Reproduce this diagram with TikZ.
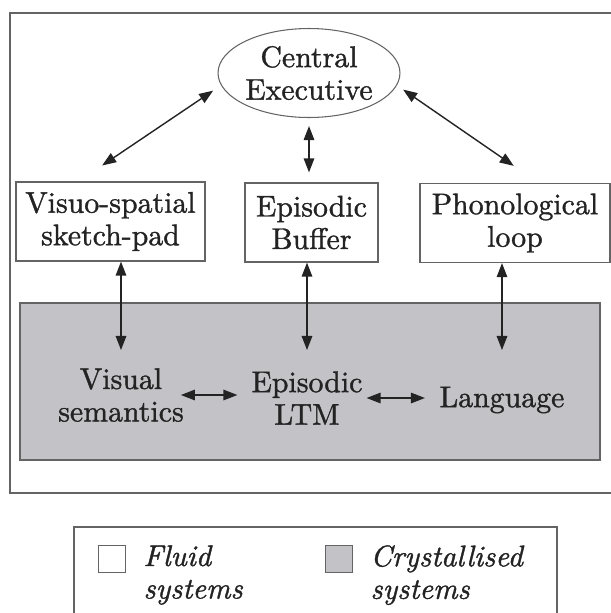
\documentclass[tikz,border=0pt]{standalone}
\usepackage{fontspec}
\usepackage{xcolor}
\usepackage{tikz}
\usetikzlibrary{shapes, arrows.meta, positioning}

\newfontfamily\inkfont{lmroman10-regular.otf}[FakeBold=1.2]
\newfontfamily\inkitfont{lmroman10-italic.otf}[FakeBold=1.2]

\definecolor{crystgrey}{RGB}{194,194,199}
\definecolor{edgegrey}{RGB}{100,100,100}
\definecolor{inkgrey}{RGB}{35,35,35}

\begin{document}
\begin{tikzpicture}[x=0.02cm, y=-0.02cm, font=\inkfont\fontsize{17}{18.5}\selectfont, text=inkgrey]
    \tikzstyle{fluid} = [draw=edgegrey, line width=0.7pt, fill=white, rectangle, align=center, inner sep=0pt, minimum height=1.58cm]
    \tikzstyle{exec} = [draw=edgegrey, line width=0.6pt, ellipse, align=center, inner sep=0pt, minimum width=3.64cm, minimum height=1.78cm]
    \tikzstyle{store} = [align=center, inner sep=1pt]
    \tikzstyle{key} = [draw=edgegrey, line width=0.7pt, minimum size=0.54cm, inner sep=0pt]
    \tikzstyle{keytext} = [align=left, inner sep=0pt, font=\inkitfont\fontsize{17}{18.5}\selectfont]
    \tikzstyle{line} = [draw=inkgrey, line width=0.8pt, {Triangle[length=8pt,width=6pt]}-{Triangle[length=8pt,width=6pt]}]

    \useasboundingbox (0,0) rectangle (611,613);

    % Outer frame (right side runs off the page)
    \draw[edgegrey, line width=0.7pt] (10,13) rectangle (616,493);

    % Crystallised systems
    \node[draw=edgegrey, line width=1pt, fill=crystgrey, minimum width=11.6cm, minimum height=3.14cm] (crystal) at (310,381.5) {};
    \node[store] (vissem) at (121,395) {Visual\\semantics};
    \node[store] (ltm) at (307,398) {Episodic\\LTM};
    \node[store] (lang) at (502,400) {Language};
    \coordinate (tips) at (0,350);

    % Fluid systems
    \node[exec] (ce) at (309,73) {Central\\Executive};
    \node[fluid, minimum width=3.78cm] (vs) at (110.5,221.5) {Visuo-spatial\\sketch-pad};
    \node[fluid, minimum width=2.66cm] (eb) at (311.5,222.5) {Episodic\\Buffer};
    \node[fluid, minimum width=3.8cm] (pl) at (515,223) {Phonological\\loop};

    % Executive links
    \draw[line, shorten <=0.57cm, shorten >=0.19cm] ([xshift=-0.64cm]vs.north) -- (ce.188);
    \draw[line, shorten <=0.16cm, shorten >=0.2cm] (ce.south) -- (ce.south |- eb.north);
    \draw[line, shorten <=0.15cm, shorten >=0.6cm] (ce.352) -- ([xshift=0.47cm]pl.north);

    % Links down to long-term stores
    \draw[line] (vs.south -| vissem) -- (tips -| vissem);
    \draw[line] (eb.south -| ltm) -- (tips -| ltm);
    \draw[line] (pl.south -| lang) -- (tips -| lang);

    % Links between stores
    \draw[line, shorten <=-0.1cm, shorten >=0.24cm] (vissem.east) -- (vissem.east -| ltm.west);
    \draw[line, shorten <=0.04cm, shorten >=0.25cm] (ltm.east) -- (ltm.east -| lang.west);

    % Key
    \draw[edgegrey, line width=0.7pt] (74,527) rectangle (557,620);
    \node[key, fill=white] (fluidsq) at (112,559) {};
    \node[key, fill=crystgrey] (crystsq) at (339,559) {};
    \node[keytext, right=0.34cm of fluidsq.north east, anchor=north west] (fluidtxt) {Fluid\\systems};
    \node[keytext, right=0.34cm of crystsq.north east, anchor=north west] (crysttxt) {Crystallised\\systems};
\end{tikzpicture}
\end{document}
